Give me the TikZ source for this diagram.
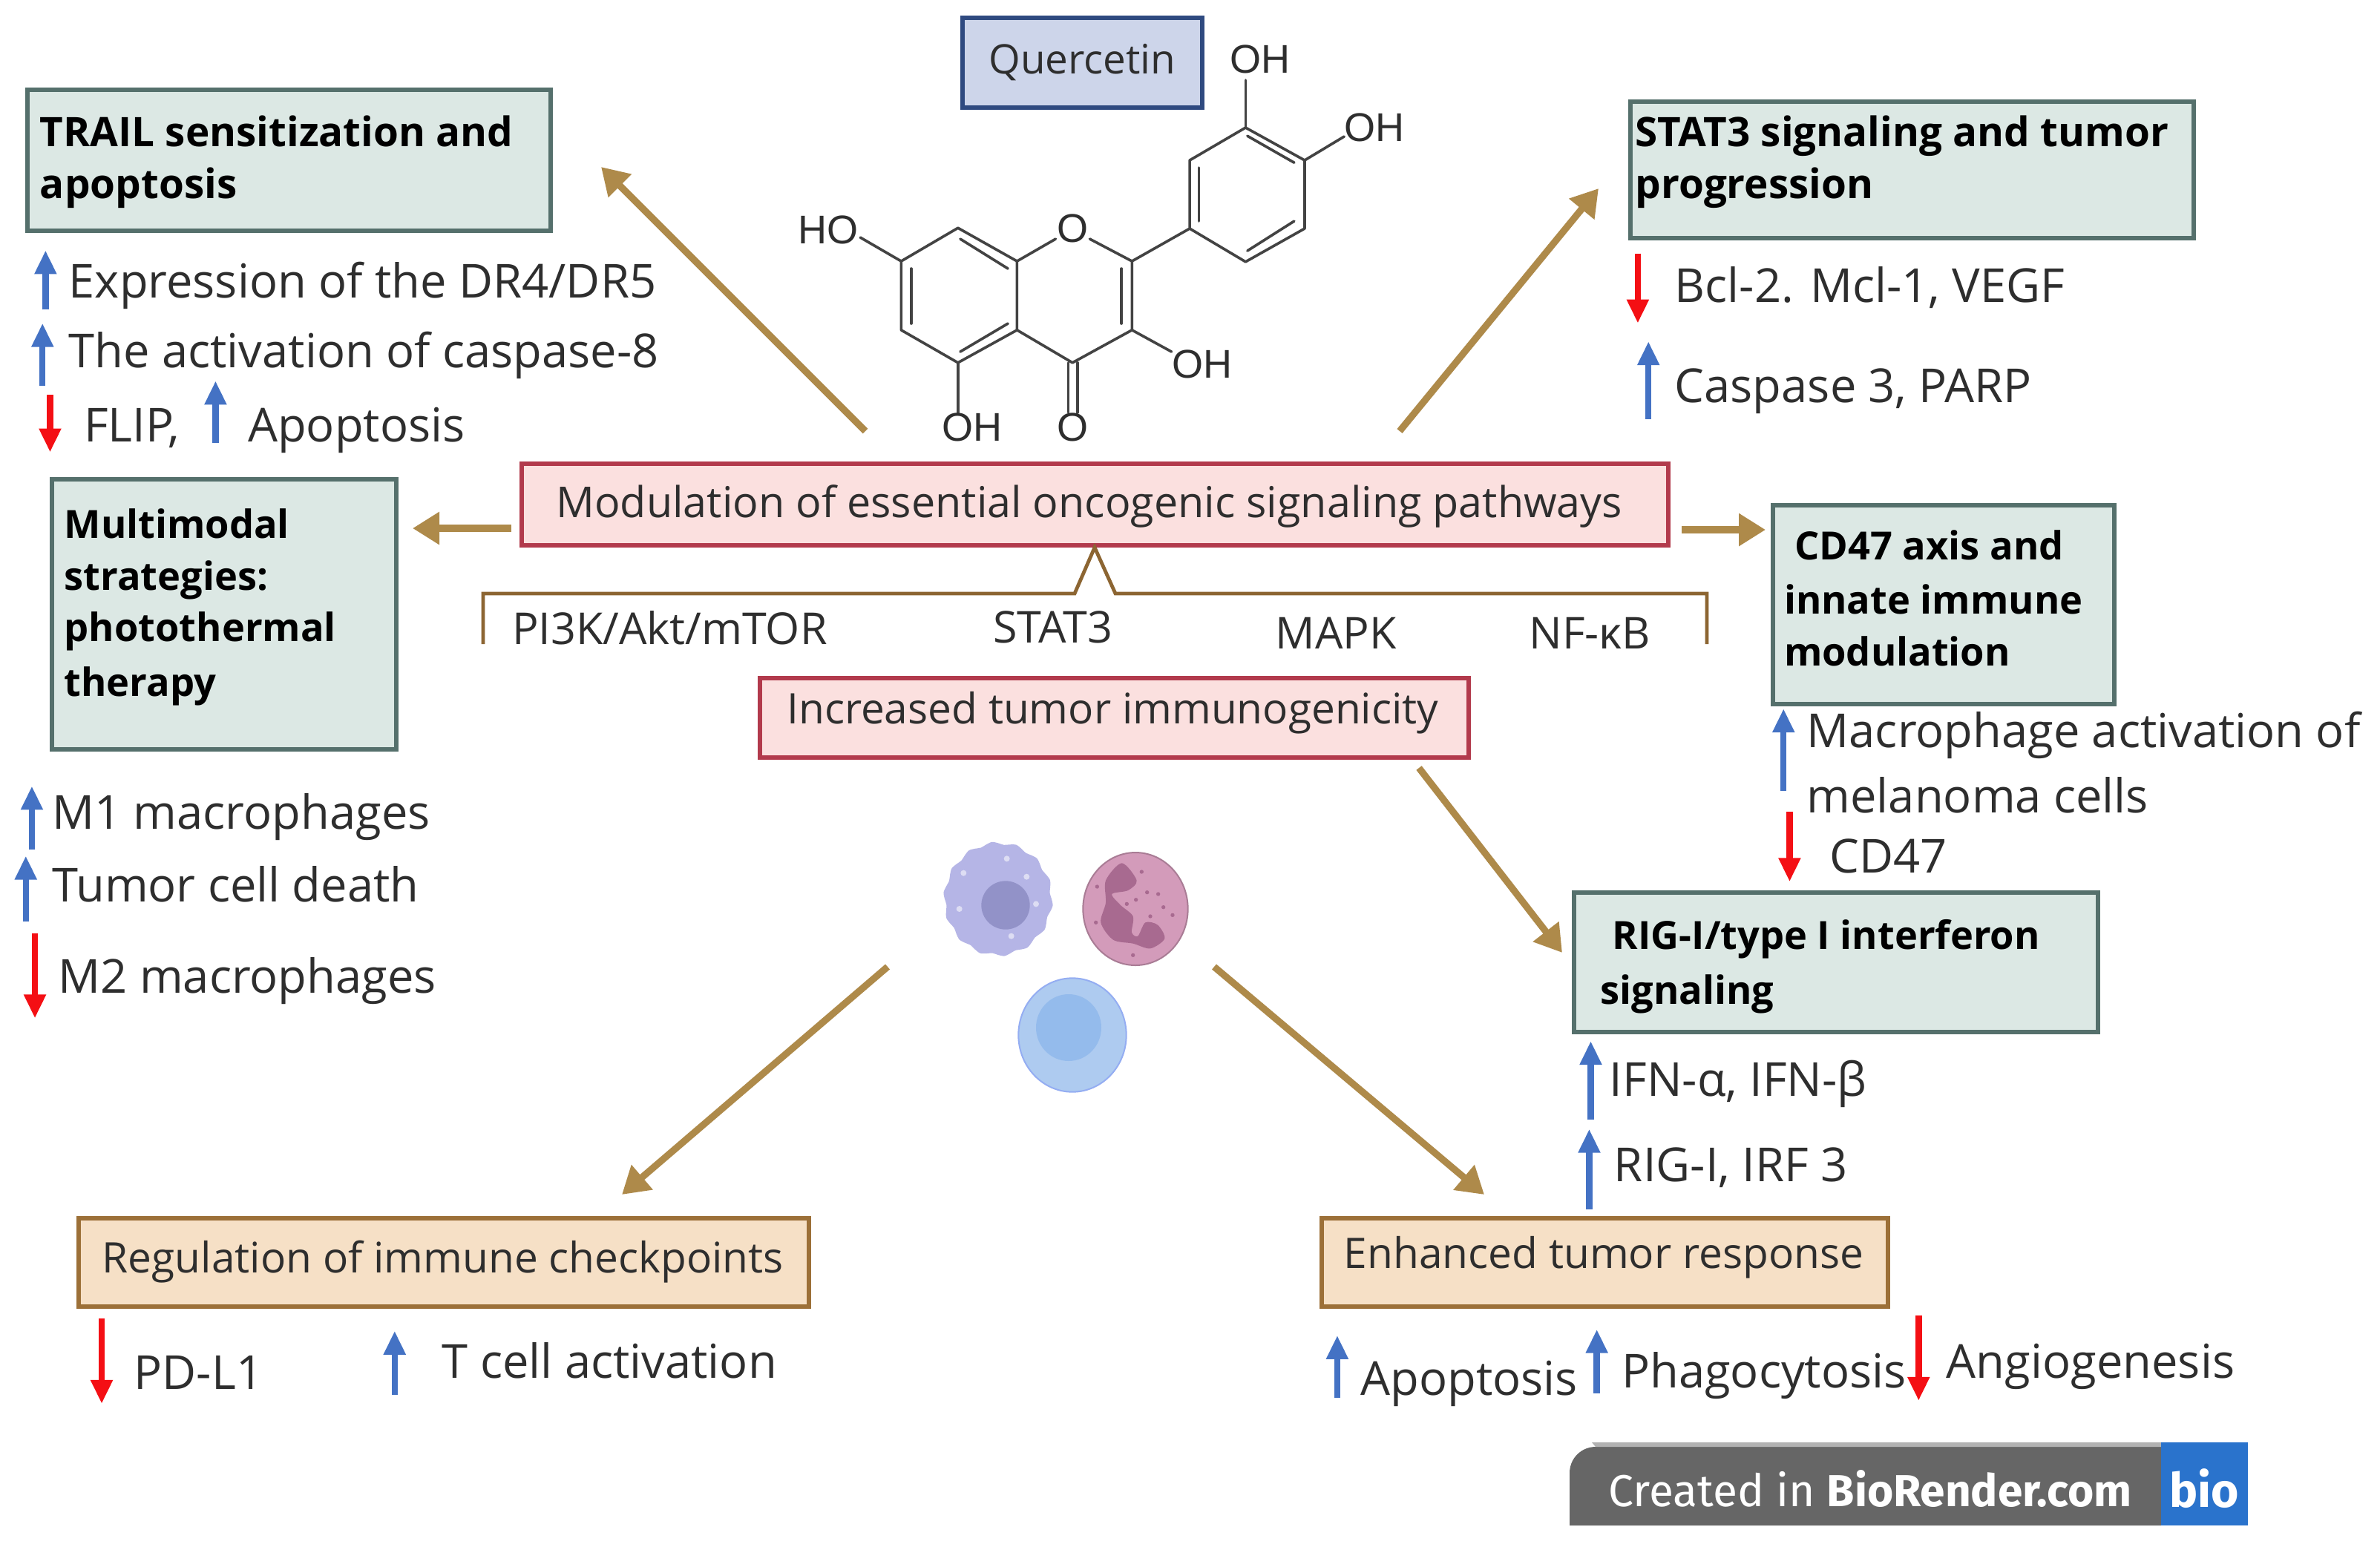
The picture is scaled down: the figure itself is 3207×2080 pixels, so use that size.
\documentclass[tikz,border=0pt]{standalone}
\usepackage{fontspec}
\setmainfont{Open Sans}
\newfontfamily\chemfont{Liberation Sans}
\newfontfamily\badgefont{Fira Sans}
\usetikzlibrary{arrows.meta,fit,calc}
\definecolor{tealfill}{HTML}{DCE8E4}
\definecolor{tealline}{HTML}{55706C}
\definecolor{pinkfill}{HTML}{FBE0DF}
\definecolor{pinkline}{HTML}{B23A4C}
\definecolor{tanfill}{HTML}{F6E0C6}
\definecolor{tanline}{HTML}{9C7038}
\definecolor{bluefill}{HTML}{CDD5EA}
\definecolor{blueline}{HTML}{2F4A80}
\definecolor{arrowtan}{HTML}{AE8A4A}
\definecolor{upblue}{HTML}{4472C4}
\definecolor{downred}{HTML}{F40F14}
\definecolor{inkdark}{HTML}{2E2E2E}
\definecolor{lilaccell}{HTML}{B5B5E6}
\definecolor{lilaccore}{HTML}{9292C8}
\definecolor{rosecell}{HTML}{D39BBA}
\definecolor{rosecore}{HTML}{A86A90}
\definecolor{skycell}{HTML}{AECBF0}
\definecolor{skycore}{HTML}{94BBEC}
\definecolor{badgeblue}{HTML}{2A73CC}
\tikzset{
  x=0.25pt,y=-0.25pt,
  panel/.style={draw,line width=1.4pt,inner sep=0pt,rectangle},
  tealbox/.style={panel,fill=tealfill,draw=tealline},
  pinkbox/.style={panel,fill=pinkfill,draw=pinkline},
  tanbox/.style={panel,fill=tanfill,draw=tanline},
  namebox/.style={panel,fill=bluefill,draw=blueline},
  txt/.style={anchor=west,inner sep=0pt,text=inkdark,text height=0.74em,text depth=0.2em},
  body/.style={txt,yshift=-0.3pt,font=\fontsize{15.8}{18}\selectfont},
  head/.style={txt,font=\fontsize{13.7}{16}\bfseries\selectfont,text=black},
  subhead/.style={txt,font=\fontsize{13.1}{16}\bfseries\selectfont,text=black},
  plain/.style={txt,font=\fontsize{14.2}{16}\selectfont},
  route/.style={txt,font=\fontsize{14.8}{16}\selectfont},
  chem/.style={anchor=center,inner sep=0pt,text=inkdark,font=\chemfont\fontsize{13.5}{15}\selectfont},
  bond/.style={draw=inkdark!90,line width=0.9pt,line cap=round,line join=round},
  flow/.style={draw=arrowtan,line width=2.3pt,-{Triangle[length=9pt,width=10.5pt]}},
  upmark/.style={draw=upblue,line width=2.1pt,-{Triangle[length=8pt,width=7pt]}},
  downmark/.style={draw=downred,line width=2.1pt,-{Triangle[length=8pt,width=7pt]}},
}
% text placed by left edge and vertical centre, on the 1568-wide grid
\newcommand{\lbl}[5]{\node[#4] (#1) at ({#2*2.0453},{(#3+4.5)*2.0453}) {#5};}
% box spanned by two corners
\newcommand{\panelbox}[6]{\node[#6,fit={(#2,#3)(#4,#5)}] (#1) {};}
% small rise/fall indicator between two named ends
\newcommand{\marker}[5]{%
  \coordinate (#1a) at ({#2*2.0453},{#3*2.0453});
  \coordinate (#1b) at ({#2*2.0453},{#4*2.0453});
  \draw[#5] (#1a) -- (#1b);}
\begin{document}
\begin{tikzpicture}
\useasboundingbox (0,0) rectangle (3207,2080);
\fill[white] (0,0) rectangle (3207,2080);

% --- boxes ---
\panelbox{quercetin}{1297}{24}{1620}{145}{namebox}
\panelbox{trail}{37}{121}{742}{311}{tealbox}
\panelbox{stat}{2197}{137}{2956}{321}{tealbox}
\panelbox{multi}{70}{646}{534}{1010}{tealbox}
\panelbox{cd}{2389}{681}{2849}{949}{tealbox}
\panelbox{rig}{2121}{1203}{2827}{1391}{tealbox}
\panelbox{modulation}{703}{625}{2248}{735}{pinkbox}
\panelbox{immuno}{1024}{914}{1979}{1021}{pinkbox}
\panelbox{checkpoints}{106}{1642}{1090}{1761}{tanbox}
\panelbox{enhanced}{1781}{1642}{2544}{1761}{tanbox}

% --- box titles ---
\lbl{qname}{651}{39}{plain,font=\fontsize{13.7}{15}\selectfont}{Quercetin}
\lbl{t1a}{26}{87}{head}{TRAIL sensitization and}
\lbl{t1b}{26}{121}{head}{apoptosis}
\lbl{t2a}{1077}{87}{head}{STAT3 signaling and tumor}
\lbl{t2b}{1077}{121}{head}{progression}
\lbl{t3a}{42}{345}{subhead}{Multimodal}
\lbl{t3b}{42}{379}{subhead}{strategies:}
\lbl{t3c}{42}{413}{subhead}{photothermal}
\lbl{t3d}{42}{449}{subhead}{therapy}
\lbl{t4a}{1182}{359}{subhead}{CD47 axis and}
\lbl{t4b}{1175}{395}{subhead}{innate immune}
\lbl{t4c}{1175}{429}{subhead}{modulation}
\lbl{t5a}{1062}{616}{subhead}{RIG-I/type I interferon}
\lbl{t5b}{1054}{652}{subhead}{signaling}
\lbl{t6}{366}{331}{plain,font=\fontsize{14.35}{16}\selectfont}{Modulation of essential oncogenic signaling pathways}
\lbl{t7}{518}{467}{plain}{Increased tumor immunogenicity}
\lbl{t8}{67}{829}{plain}{Regulation of immune checkpoints}
\lbl{t9}{885}{826}{plain}{Enhanced tumor response}

% --- pathway bracket ---
\coordinate (brL) at (651,868);
\coordinate (brR) at (2300,868);
\coordinate (brTip) at (1475,0);
\draw[draw=tanline!90!black,line width=1.2pt,line join=miter]
  (brL) -- (651,800) -- (1448,800) -- (brTip |- modulation.south) -- (1503,800) -- (2300,800) -- (brR);
\lbl{p1}{337}{415}{route}{PI3K/Akt/mTOR}
\lbl{p2}{654}{414}{route}{STAT3}
\lbl{p3}{840}{418}{route}{MAPK}
\lbl{p4}{1007}{418}{route}{NF-κB}

% --- readouts ---
\lbl{r1}{45}{186}{body}{Expression of the DR4/DR5}
\lbl{r2}{45}{232}{body}{The activation of caspase-8}
\lbl{r3}{55}{281}{body}{FLIP,}
\lbl{r4}{163}{281}{body}{Apoptosis}
\lbl{r5}{34}{536}{body}{M1 macrophages}
\lbl{r6}{34}{584}{body}{Tumor cell death}
\lbl{r7}{38}{644}{body}{M2 macrophages}
\lbl{r8}{1103}{189}{body}{Bcl-2. Mcl-1, VEGF}
\lbl{r9}{1103}{255}{body}{Caspase 3, PARP}
\lbl{r10}{1190}{482}{body}{Macrophage activation of}
\lbl{r11}{1190}{525}{body}{melanoma cells}
\lbl{r12}{1205}{565}{body}{CD47}
\lbl{r13}{1060}{712}{body}{IFN-α, IFN-β}
\lbl{r14}{1063}{768}{body}{RIG-I, IRF 3}
\lbl{r15}{88}{905}{body}{PD-L1}
\lbl{r16}{291}{898}{body}{T cell activation}
\lbl{r17}{896}{909}{body}{Apoptosis}
\lbl{r18}{1068}{904}{body}{Phagocytosis}
\lbl{r19}{1282}{898}{body}{Angiogenesis}

% --- rise / fall indicators ---
\marker{m1}{30}{204}{165}{upmark}
\marker{m2}{28}{254}{213}{upmark}
\marker{m3}{33}{260}{298}{downmark}
\marker{m4}{142}{292}{251}{upmark}
\marker{m5}{1079}{167}{213}{downmark}
\marker{m6}{1086}{276}{225}{upmark}
\marker{m7}{1175}{521}{467}{upmark}
\marker{m8}{1179}{535}{581}{downmark}
\marker{m9}{21}{560}{518}{upmark}
\marker{m10}{17}{607}{564}{upmark}
\marker{m11}{23}{615}{671}{downmark}
\marker{m12}{1048}{738}{686}{upmark}
\marker{m13}{1047}{797}{744}{upmark}
\marker{m14}{67}{869}{925}{downmark}
\marker{m15}{260}{919}{877}{upmark}
\marker{m16}{881}{921}{880}{upmark}
\marker{m17}{1052}{918}{876}{upmark}
\marker{m18}{1264}{867}{923}{downmark}

% --- flow arrows ---
\coordinate (f1a) at (1166,581); \coordinate (f1b) at (810,225);
\coordinate (f2a) at (1886,581); \coordinate (f2b) at (2154,254);
\coordinate (f3a) at (689,712);  \coordinate (f3b) at (556,712);
\coordinate (f4a) at (2266,714); \coordinate (f4b) at (2379,714);
\coordinate (f5a) at (1912,1035);\coordinate (f5b) at (2105,1284);
\coordinate (f6a) at (1196,1303);\coordinate (f6b) at (838,1610);
\coordinate (f7a) at (1636,1303);\coordinate (f7b) at (2000,1610);
\draw[flow] (f1a) -- (f1b);
\draw[flow] (f2a) -- (f2b);
\draw[flow] (f3a) -- (f3b);
\draw[flow] (f4a) -- (f4b);
\draw[flow] (f5a) -- (f5b);
\draw[flow] (f6a) -- (f6b);
\draw[flow] (f7a) -- (f7b);

% --- quercetin structure ---
\begin{scope}[shift={(1000,0)},x=0.15306pt,y=-0.1pt]
  \draw[bond] (350,880) -- (475,768) -- (605,880) -- (605,1112) -- (475,1222) -- (350,1112) -- cycle;
  \draw[bond] (605,880) -- (690,805);
  \draw[bond] (765,805) -- (858,880) -- (858,1112) -- (727,1222) -- (605,1112);
  \draw[bond] (858,880) -- (985,770) -- (1108,882) -- (1238,770) -- (1238,540) -- (1108,430) -- (985,540) -- (985,770);
  \draw[bond] (372,905) -- (372,1090);
  \draw[bond] (480,805) -- (585,905);
  \draw[bond] (480,1185) -- (585,1090);
  \draw[bond] (835,905) -- (835,1090);
  \draw[bond] (1005,565) -- (1005,745);
  \draw[bond] (1112,458) -- (1215,548);
  \draw[bond] (1112,845) -- (1215,745);
  \draw[bond] (1108,430) -- (1108,270);
  \draw[bond] (1238,540) -- (1325,460);
  \draw[bond] (350,880) -- (260,800);
  \draw[bond] (858,1112) -- (945,1185);
  \draw[bond] (475,1222) -- (475,1390);
  \draw[bond] (718,1222) -- (718,1390);
  \draw[bond] (738,1222) -- (738,1390);
  \node[chem] (ring) at (727,770) {O};
  \node[chem] (oh1) at (1140,200) {OH};
  \node[chem] (oh2) at (1392,430) {OH};
  \node[chem] (oh3) at (190,775) {HO};
  \node[chem] (oh4) at (1012,1228) {OH};
  \node[chem] (oh5) at (507,1440) {OH};
  \node[chem] (keto) at (727,1440) {O};
\end{scope}

% --- immune cells ---
\begin{scope}[shift={(1150,1080)},x=0.08333pt,y=-0.08333pt]
  % ruffled cell
  \fill[lilaccell] plot[smooth cycle,samples=56,domain=0:353.5,variable=\a]
    ({585+(216+6*sin(14*\a))*cos(\a)},{395+(226+6*sin(14*\a))*sin(\a)});
  \fill[lilaccore] (615,420) circle[x radius=98,y radius=98];
  \foreach \p in {(620,232),(445,290),(700,305),(738,415),(428,435),(638,545)}
    \fill[white,opacity=.55] \p circle[x radius=12,y radius=12];
  % lobed cell
  \fill[rosecell,draw=rosecell!80!black,line width=0.5pt] (1140,435) circle[x radius=212,y radius=228];
  \fill[rosecore] plot[smooth cycle] coordinates {(1085,250) (1145,320) (1110,360) (1045,375)
      (1080,420) (1130,465) (1125,530) (1150,545) (1180,490) (1230,500) (1258,555) (1200,595)
      (1130,575) (1050,560) (1000,490) (1020,410) (1020,320)};
  \foreach \p in {(985,345),(1165,285),(1187,368),(1232,375),(1142,398),(1253,428),(1200,465),(1290,460),(1105,415),(980,490),(1130,622)}
    \fill[rosecore] \p circle[x radius=8,y radius=8];
  % round cell
  \fill[skycell,draw=skycell!85!blue,line width=0.5pt] (885,945) circle[x radius=218,y radius=230];
  \fill[skycore] (870,915) circle[x radius=132,y radius=135];
\end{scope}

% --- attribution badge ---
\fill[black!60] (2115,2056) -- (2115,1985) arc[start angle=180,end angle=270,radius=35] -- (2912,1950) -- (2912,2056) -- cycle;
\fill[black!30] (2145,1944) -- (2912,1944) -- (2912,1950) -- (2150,1950) -- cycle;
\fill[badgeblue] (2912,1944) rectangle (3029,2056);
\node[anchor=west,inner sep=0pt,text=white,font=\badgefont\fontsize{15.1}{17}\selectfont] (credit) at (2167,2006) {Created in \textbf{BioRender.com}};
\node[anchor=center,inner sep=0pt,text=white,font=\badgefont\fontsize{16}{16}\bfseries\selectfont] (logo) at (2970,2006) {bio};
\end{tikzpicture}
\end{document}
